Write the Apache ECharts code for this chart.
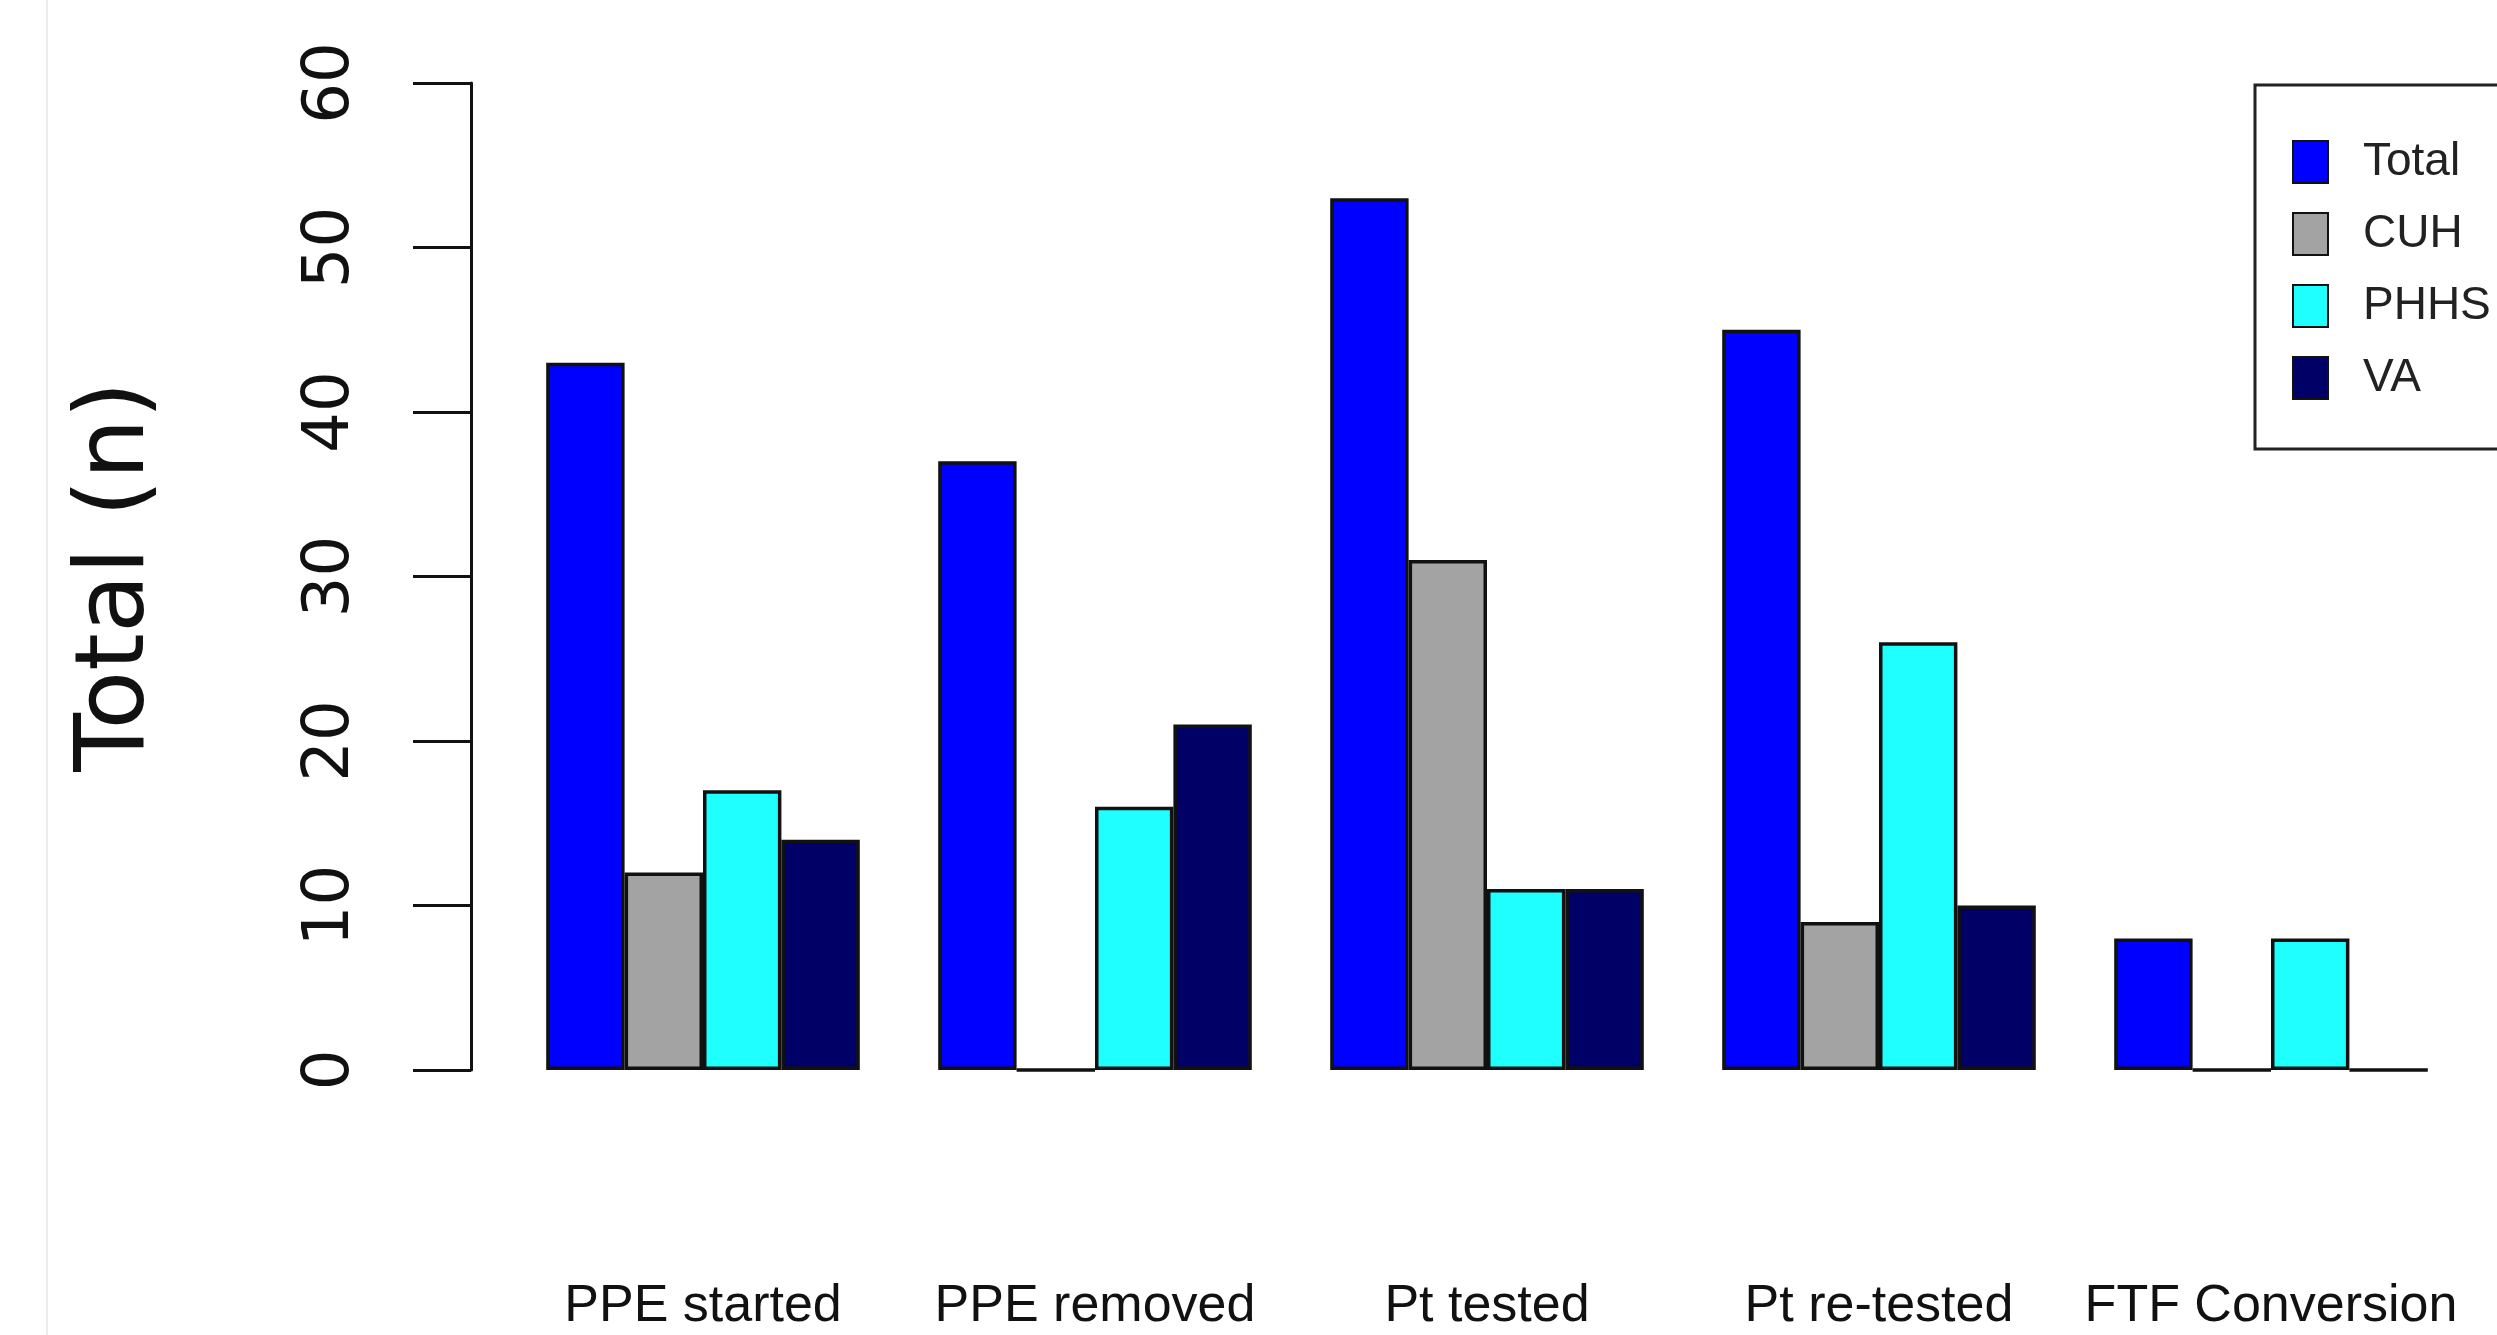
<!DOCTYPE html>
<html>
<head>
<meta charset="utf-8">
<script src="https://cdn.jsdelivr.net/npm/echarts@6/dist/echarts.min.js"></script>
<style>
html,body{margin:0;padding:0;background:#fff;}
#chart{width:2497px;height:1335px;}
</style>
</head>
<body>
<div id="chart"></div>
<script>
const categories = ['PPE started', 'PPE removed', 'Pt tested', 'Pt re-tested', 'FTF Conversion'];
const seriesNames = ['Total', 'CUH', 'PHHS', 'VA'];
const totalValues = [43, 37, 53, 45, 8];
const cuhValues = [12, 0, 31, 9, 0];
const phhsValues = [17, 16, 11, 26, 8];
const vaValues = [14, 21, 11, 10, 0];
const yTicks = [0, 10, 20, 30, 40, 50, 60];

const colors = ['#0000FF', '#A3A3A3', '#20FFFF', '#000066'];
const values = [totalValues, cuhValues, phhsValues, vaValues];

const sans = "'Liberation Sans', Arial, sans-serif";

const chart = echarts.init(document.getElementById('chart'));
chart.setOption({
  animation: false,
  backgroundColor: '#fff',
  graphic: [{
    type: 'line', shape: {x1: 47, y1: 0, x2: 47, y2: 1335},
    style: {stroke: '#ececec', lineWidth: 2}
  }],
  grid: {left: 507, right: 30, top: 83, bottom: 265, containLabel: false},
  legend: {
    left: 2255, top: 85,
    orient: 'vertical',
    icon: 'rect',
    itemWidth: 35, itemHeight: 42, itemGap: 26,
    padding: [54, 300, 48, 37],
    borderColor: '#222', borderWidth: 3,
    textStyle: {fontFamily: sans, fontSize: 46, lineHeight: 42, color: '#222', padding: [0, 0, 0, 30]},
    data: seriesNames
  },
  xAxis: {
    type: 'category',
    data: categories,
    axisLine: {show: false},
    axisTick: {show: false},
    axisLabel: {fontFamily: sans, fontSize: 52, color: '#111', margin: 211, interval: 0}
  },
  yAxis: {
    type: 'value',
    min: yTicks[0], max: yTicks[yTicks.length - 1], interval: 10,
    offset: 36,
    name: 'Total (n)',
    nameLocation: 'middle',
    nameGap: 305,
    nameRotate: 90,
    nameTextStyle: {fontFamily: "'DejaVu Sans', sans-serif", fontSize: 96, color: '#111'},
    axisLine: {show: true, lineStyle: {color: '#111', width: 3}},
    axisTick: {show: true, inside: false, length: 58, lineStyle: {color: '#111', width: 3}},
    axisLabel: {rotate: 90, fontFamily: "'DejaVu Sans', sans-serif", fontSize: 64, color: '#111', margin: 108},
    splitLine: {show: false}
  },
  series: seriesNames.map((name, i) => ({
    name: name,
    type: 'bar',
    data: values[i],
    barGap: '0%',
    barCategoryGap: '20%',
    itemStyle: {color: colors[i], borderColor: '#111', borderWidth: 3.5}
  }))
});
</script>
</body>
</html>
